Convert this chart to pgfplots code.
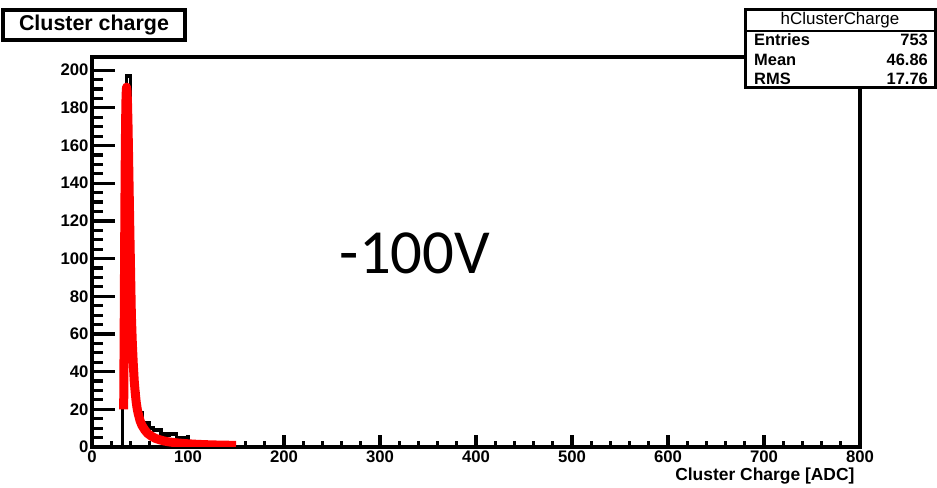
\documentclass[border=0pt]{standalone}
\usepackage{pgfplots}
\pgfplotsset{compat=1.18}
\usepackage{fontspec}
\setmainfont{Liberation Sans}
\newfontfamily\calibri{Carlito}

% Cluster charge histogram, 4 ADC bins (left edge, entries)
\pgfplotstableread{
x    n
28   0
32   21
36   197
40   55
44   28
48   18
52   12
56   13
60   10
64   9
68   9
72   7
76   6
80   7
84   7
88   5
92   5
96   4
100  2
104  2
108  1
112  2
116  1
120  1
124  1
128  0
132  1
136  0
140  1
144  0
148  0
}\histdata

% Landau fit evaluated on a grid
\pgfplotstableread{
x     f
33    20
33.5  60
34    105
34.5  145
35    172
35.5  187
36    191
36.5  189
37    182
37.5  171
38    157
38.5  142
39    127
39.5  112
40    98
41    70
42    55
43    44
44    35
45    29
46    24
47    20.5
48    18
50    14
52    11.5
55    9
58    7.2
62    5.7
66    4.6
70    3.9
75    3.2
80    2.7
90    2.1
100   1.7
110   1.4
120   1.2
130   1.05
140   0.95
150   0.85
}\fitdata

\pgfplotsset{
  rootframe/.style={
    at={(92bp,41bp)}, anchor=south west,
    scale only axis, width=768bp, height=390bp,
    xmin=0, xmax=800, ymin=0, ymax=207,
    tick align=inside,
    every tick/.style={black, line width=3.2bp},
    /pgf/number format/assume math mode=true,
    ticklabel style={font=\fontsize{16.8}{16.8}\selectfont\bfseries},
  },
}

\begin{document}
\begin{tikzpicture}[x=1bp,y=1bp]
\path[use as bounding box] (0,0) rectangle (937,488);

% frame, x ticks and the data
\begin{axis}[
  rootframe,
  axis line style={line width=3.8bp},
  xtick={0,100,...,800}, minor x tick num=4,
  xtick pos=bottom,
  ytick=\empty,
  major tick length=12bp, minor tick length=6bp,
]
\addplot[const plot, black, line width=3.5bp] table[x=x, y=n] {\histdata};
\addplot[red, line width=9bp, line join=round] table[x=x, y=f] {\fitdata};
\end{axis}

% y ticks (longer, as the pad is wider than tall)
\begin{axis}[
  rootframe,
  axis line style={draw=none},
  xtick=\empty,
  ytick={0,20,...,200}, minor y tick num=3,
  ytick pos=left,
  major tick length=23bp, minor tick length=11bp,
]
\end{axis}

% axis title
\node[anchor=base east, font=\fontsize{17.5}{17.5}\selectfont\bfseries]
  at (858,7) {Cluster Charge [ADC]};

% plot title box
\node[draw, line width=3.2bp, fill=white, minimum width=182bp, minimum height=30bp,
      inner sep=0pt, font=\fontsize{21.5}{21.5}\selectfont\bfseries]
  at (94,463) {Cluster charge};

% statistics box
\draw[line width=3bp, fill=white] (745,400) rectangle (935,478);
\draw[line width=2.6bp] (745,457) -- (935,457);
\node[font=\fontsize{17}{17}\selectfont] at (840,467.5) {hClusterCharge};
\begin{scope}[every node/.style={font=\fontsize{16.5}{16.5}\selectfont\bfseries, inner sep=0pt}]
\node[anchor=west] at (754,448) {Entries};
\node[anchor=west] at (754,428) {Mean};
\node[anchor=west] at (754,409) {RMS};
\node[anchor=east] at (928,448) {753};
\node[anchor=east] at (928,428) {46.86};
\node[anchor=east] at (928,409) {17.76};
\end{scope}

% bias voltage annotation
\node[font=\fontsize{63}{63}\selectfont\calibri] at (415,235) {-100V};
\end{tikzpicture}
\end{document}
